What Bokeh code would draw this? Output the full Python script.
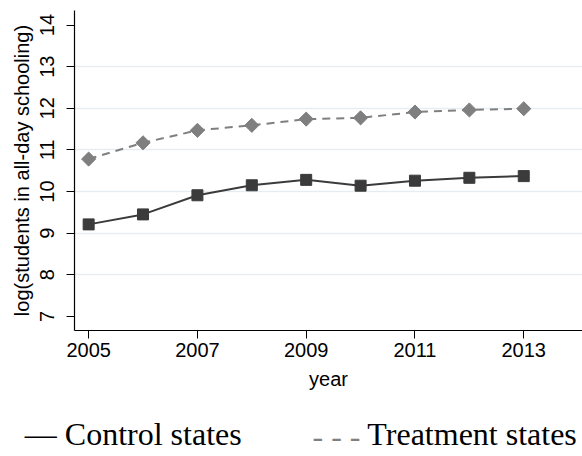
import math
from bokeh.plotting import figure
from bokeh.models import FixedTicker, Range1d, LinearAxis
from bokeh.embed import file_html
from bokeh.resources import INLINE

years = [2005, 2006, 2007, 2008, 2009, 2010, 2011, 2012, 2013]
control = [9.21, 9.45, 9.91, 10.15, 10.28, 10.14, 10.26, 10.33, 10.37]
treatment = [10.78, 11.17, 11.47, 11.59, 11.74, 11.77, 11.91, 11.96, 11.99]
x_ticks = [2005, 2007, 2009, 2011, 2013]
y_ticks = [7, 8, 9, 10, 11, 12, 13, 14]
grid_ticks = [8, 9, 10, 11, 12, 13]
legend_labels = ["\u2014 Control states", "Treatment states"]
legend_dash = "\u00a0\u00a0- - -"
legend_at = [2005.82, 2012.05]

p = figure(width=582, height=456, output_backend="svg", toolbar_location=None,
           x_range=Range1d(2004.74, 2014.08), y_range=Range1d(6.66, 14.35),
           min_border_left=74, min_border_right=0, min_border_top=10, min_border_bottom=126)
p.outline_line_color = None
p.background_fill_color = "white"
p.border_fill_color = "white"

ctl = "#3b3b3b"
trt = "#7f7f7f"
p.line(years, control, line_color=ctl, line_width=2)
p.scatter(years, control, marker="square", size=11, fill_color=ctl, line_color=ctl)
p.line(years, treatment, line_color=trt, line_width=2, line_dash="8 6")
p.scatter(years, treatment, marker="square", size=10, angle=math.pi / 4,
          fill_color=trt, line_color=trt)

p.xaxis.ticker = FixedTicker(ticks=x_ticks)
p.yaxis.ticker = FixedTicker(ticks=y_ticks)
p.xgrid.visible = False
p.ygrid.ticker = FixedTicker(ticks=grid_ticks)
p.ygrid.grid_line_color = "#e6edf1"
p.ygrid.grid_line_width = 1.5

for ax in (p.xaxis[0], p.yaxis[0]):
    ax.axis_line_color = "black"
    ax.axis_line_width = 1.2
    ax.major_tick_line_color = "black"
    ax.major_tick_out = 8
    ax.major_tick_in = 0
    ax.minor_tick_line_color = None
    ax.major_label_text_font = "Liberation Sans"
    ax.major_label_text_font_size = "20px"
    ax.major_label_text_color = "black"
    ax.axis_label_text_font = "Liberation Sans"
    ax.axis_label_text_font_size = "20px"
    ax.axis_label_text_font_style = "normal"
    ax.axis_label_text_color = "black"

p.xaxis.axis_label = "year"
p.xaxis.major_label_standoff = 4
p.xaxis.axis_label_standoff = 8
p.yaxis.axis_label = "log(students in all-day schooling)"
p.yaxis.major_label_orientation = "vertical"
p.yaxis.major_label_standoff = 12
p.yaxis.axis_label_standoff = 5

leg = LinearAxis(ticker=FixedTicker(ticks=legend_at),
                 major_label_overrides={legend_at[0]: legend_labels[0],
                                        legend_at[1]: legend_labels[1]})
leg.axis_line_color = None
leg.major_tick_line_color = None
leg.minor_tick_line_color = None
leg.major_tick_out = 0
leg.major_tick_in = 0
leg.major_label_standoff = 23
leg.major_label_text_font = "Liberation Serif"
leg.major_label_text_font_size = "32px"
leg.major_label_text_color = "black"
leg.axis_label = legend_dash
leg.axis_label_text_font = "Liberation Serif"
leg.axis_label_text_font_size = "32px"
leg.axis_label_text_font_style = "normal"
leg.axis_label_text_color = "#7f7f7f"
leg.axis_label_standoff = -37
p.add_layout(leg, "below")

open("out.html", "w").write(file_html(p, INLINE))
